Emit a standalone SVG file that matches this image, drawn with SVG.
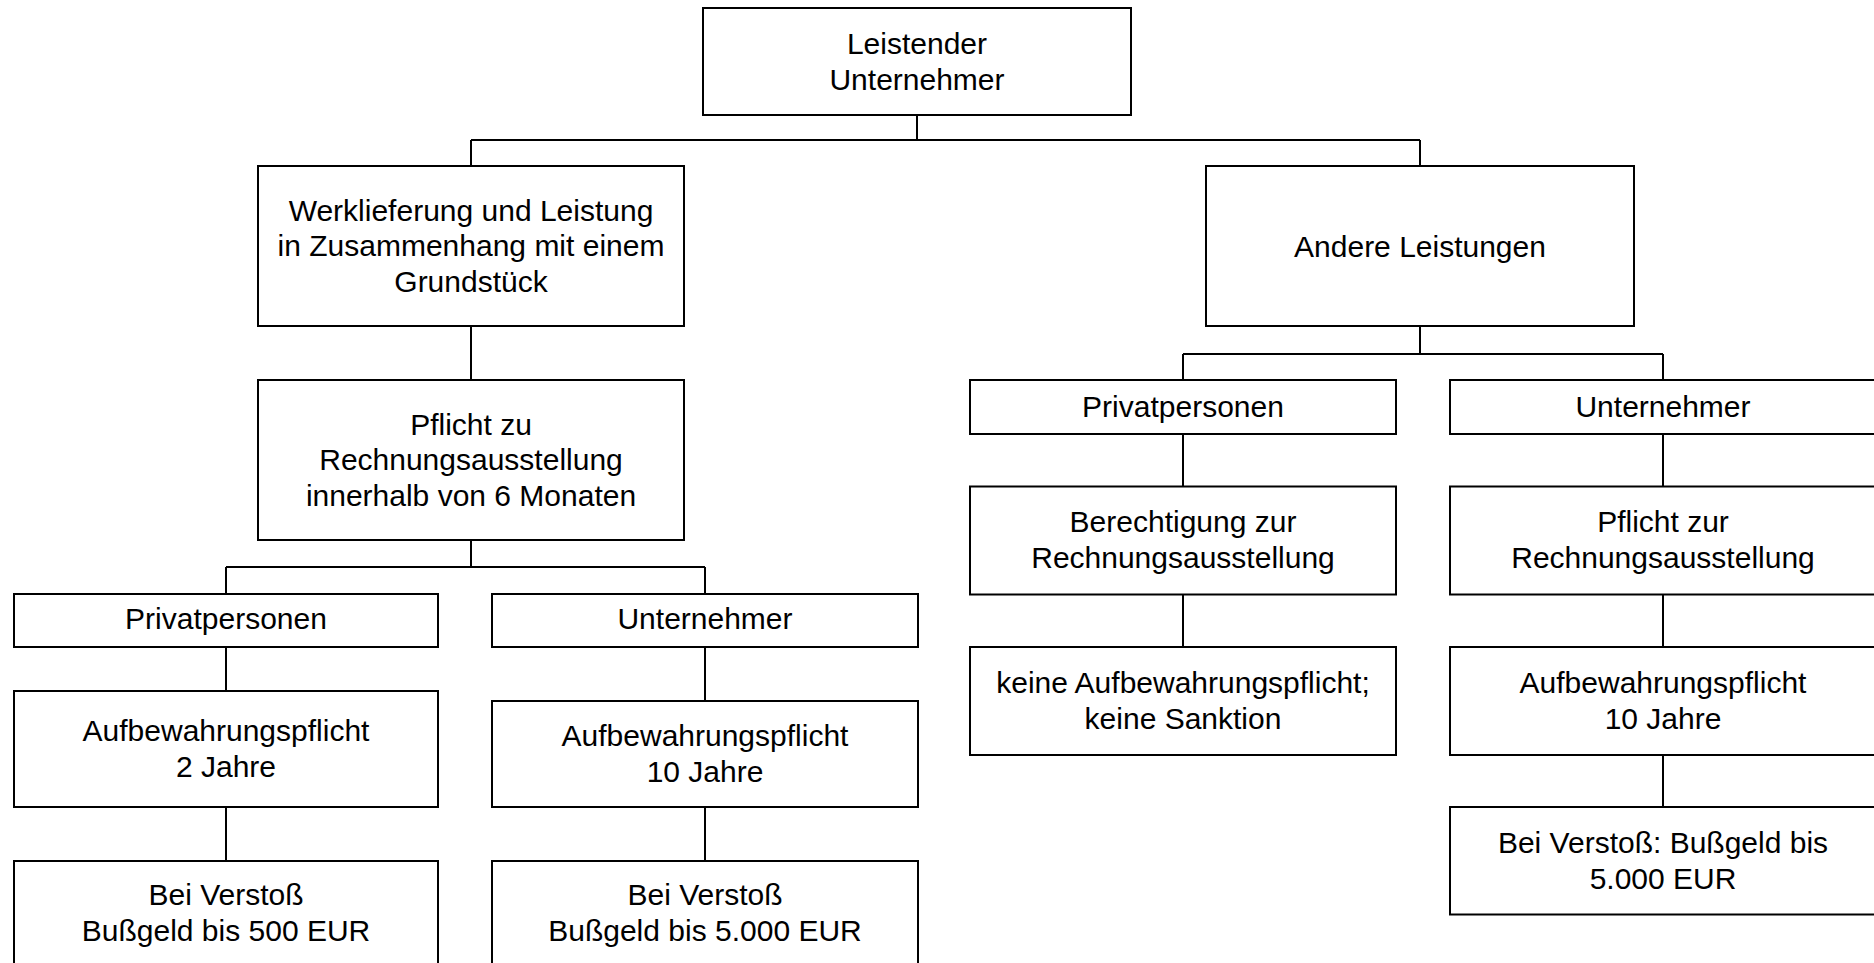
<svg xmlns="http://www.w3.org/2000/svg" width="1874" height="963" viewBox="0 0 1874 963">
<style>
.box{fill:#fff;stroke:#000;stroke-width:2}
.t{font-family:"Liberation Sans",Arial,sans-serif;font-size:30px;fill:#000;text-anchor:middle}
.c{fill:none;stroke:#000;stroke-width:2}
</style>
<rect width="1874" height="963" fill="#fff"/>
<g id="connectors" class="c">
<path d="M917,115V140M471,140H1420M471,140V166M1420,140V166"/>
<path d="M471,326V380"/>
<path d="M471,540V567M226,567H705M226,567V594M705,567V594"/>
<path d="M226,647V691M226,807V861"/>
<path d="M705,647V701M705,807V861"/>
<path d="M1420,326V354M1183,354H1663M1183,354V380M1663,354V380"/>
<path d="M1183,434V486.5M1183,594.5V647"/>
<path d="M1663,434V486.5M1663,594.5V647M1663,755V807"/>
</g>
<g id="n1"><rect class="box" x="703" y="8" width="428" height="107"/>
<text class="t" x="917" y="53.5">Leistender</text><text class="t" x="917" y="89.5">Unternehmer</text></g>
<g id="n2"><rect class="box" x="258" y="166" width="426" height="160"/>
<text class="t" x="471" y="220.5">Werklieferung und Leistung</text><text class="t" x="471" y="256.2">in Zusammenhang mit einem</text><text class="t" x="471" y="292">Grundstück</text></g>
<g id="n3"><rect class="box" x="1206" y="166" width="428" height="160"/>
<text class="t" x="1420" y="256.5">Andere Leistungen</text></g>
<g id="n4"><rect class="box" x="258" y="380" width="426" height="160"/>
<text class="t" x="471" y="434.7">Pflicht zu</text><text class="t" x="471" y="470.4">Rechnungsausstellung</text><text class="t" x="471" y="506">innerhalb von 6 Monaten</text></g>
<g id="n5"><rect class="box" x="14" y="594" width="424" height="53"/>
<text class="t" x="226" y="629">Privatpersonen</text></g>
<g id="n6"><rect class="box" x="492" y="594" width="426" height="53"/>
<text class="t" x="705" y="629">Unternehmer</text></g>
<g id="n7"><rect class="box" x="14" y="691" width="424" height="116"/>
<text class="t" x="226" y="741">Aufbewahrungspflicht</text><text class="t" x="226" y="777">2 Jahre</text></g>
<g id="n8"><rect class="box" x="492" y="701" width="426" height="106"/>
<text class="t" x="705" y="745.5">Aufbewahrungspflicht</text><text class="t" x="705" y="781.5">10 Jahre</text></g>
<g id="n9"><rect class="box" x="14" y="861" width="424" height="112"/>
<text class="t" x="226" y="905">Bei Verstoß</text><text class="t" x="226" y="941">Bußgeld bis 500 EUR</text></g>
<g id="n10"><rect class="box" x="492" y="861" width="426" height="112"/>
<text class="t" x="705" y="905">Bei Verstoß</text><text class="t" x="705" y="941">Bußgeld bis 5.000 EUR</text></g>
<g id="n11"><rect class="box" x="970" y="380" width="426" height="54"/>
<text class="t" x="1183" y="416.7">Privatpersonen</text></g>
<g id="n12"><rect class="box" x="1450" y="380" width="426" height="54"/>
<text class="t" x="1663" y="416.7">Unternehmer</text></g>
<g id="n13"><rect class="box" x="970" y="486.5" width="426" height="108"/>
<text class="t" x="1183" y="532">Berechtigung zur</text><text class="t" x="1183" y="568.3">Rechnungsausstellung</text></g>
<g id="n14"><rect class="box" x="1450" y="486.5" width="426" height="108"/>
<text class="t" x="1663" y="532">Pflicht zur</text><text class="t" x="1663" y="568.3">Rechnungsausstellung</text></g>
<g id="n15"><rect class="box" x="970" y="647" width="426" height="108"/>
<text class="t" x="1183" y="693">keine Aufbewahrungspflicht;</text><text class="t" x="1183" y="729">keine Sanktion</text></g>
<g id="n16"><rect class="box" x="1450" y="647" width="426" height="108"/>
<text class="t" x="1663" y="693">Aufbewahrungspflicht</text><text class="t" x="1663" y="729">10 Jahre</text></g>
<g id="n17"><rect class="box" x="1450" y="807" width="426" height="107.5"/>
<text class="t" x="1663" y="852.7">Bei Verstoß: Bußgeld bis</text><text class="t" x="1663" y="888.7">5.000 EUR</text></g>
</svg>
